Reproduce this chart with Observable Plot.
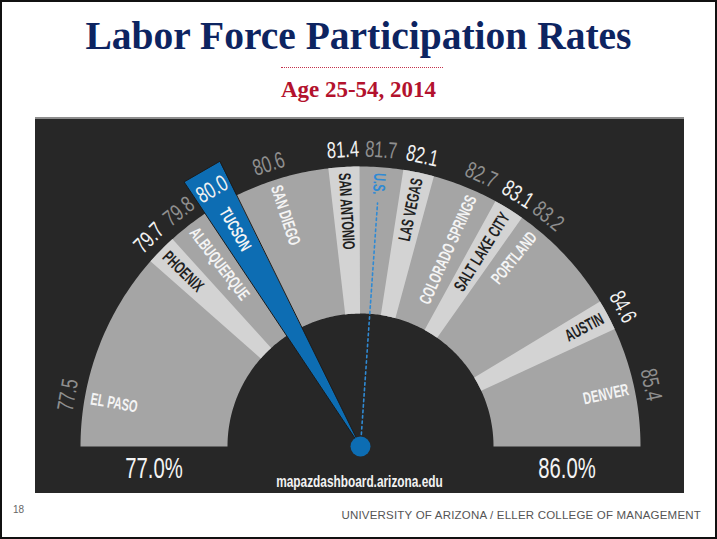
<!DOCTYPE html>
<html><head><meta charset="utf-8">
<script src="https://cdn.jsdelivr.net/npm/d3@7"></script>
<script src="https://cdn.jsdelivr.net/npm/@observablehq/plot@0.6"></script>
<style>
html,body{margin:0;padding:0;background:#fff;}
#slide{position:relative;width:717px;height:539px;box-sizing:border-box;border:2px solid #111;overflow:hidden;background:#fff;}
#title{position:absolute;left:0;right:0;top:14px;line-height:40px;text-align:center;font-family:"Liberation Serif","Times New Roman",serif;font-weight:bold;font-size:39.5px;color:#0d2461;white-space:nowrap;}
#rule{position:absolute;left:279px;width:162px;top:65px;border-top:1.5px dotted #c4324c;}
#subtitle{position:absolute;left:0;right:0;top:76px;line-height:23px;text-align:center;font-family:"Liberation Serif","Times New Roman",serif;font-weight:bold;font-size:23px;color:#b3122d;white-space:nowrap;}
#panel{position:absolute;left:33px;top:115px;width:649px;height:374px;border-top:2px solid #8d8d8d;background:#272727;}
#panel svg{display:block;}
#credit{position:absolute;left:0;width:649px;top:354px;text-align:center;}
#credit span{display:inline-block;transform:scaleX(0.74);font-family:"Liberation Sans",Arial,sans-serif;font-weight:bold;font-size:16px;color:#f2f2f2;}
#pagenum{position:absolute;left:11px;top:502px;font-family:"Liberation Sans",Arial,sans-serif;font-size:10px;color:#666;}
#footer{position:absolute;right:14px;top:507px;font-family:"Liberation Sans",Arial,sans-serif;font-size:11.5px;color:#555;letter-spacing:0.2px;}
</style></head>
<body>
<div id="slide">
  <div id="title">Labor Force Participation Rates</div>
  <div id="rule"></div>
  <div id="subtitle">Age 25-54, 2014</div>
  <div id="panel"><div id="chart"></div><div id="credit"><span>mapazdashboard.arizona.edu</span></div></div>
  <div id="pagenum">18</div>
  <div id="footer">UNIVERSITY OF ARIZONA / ELLER COLLEGE OF MANAGEMENT</div>
</div>
<script>
// ---- data ----
const cities = ["EL PASO","PHOENIX","ALBUQUERQUE","TUCSON","SAN DIEGO","SAN ANTONIO","U.S.","LAS VEGAS","COLORADO SPRINGS","SALT LAKE CITY","PORTLAND","AUSTIN","DENVER"];
const rates  = [77.5, 79.7, 79.8, 80.0, 80.6, 81.4, 81.7, 82.1, 82.7, 83.1, 83.2, 84.6, 85.4];
const kinds  = ["band","strip","band","tucson","band","strip","us","strip","band","strip","band","strip","band"];
const scaleEnds = [77, 86];

// ---- geometry / style ----
const R_IN = 133, R_OUT = 280, R_NEEDLE = 318, R_VALUE = 297, R_LABEL = 274;
const STRIP_W = 0.32, NEEDLE_W = 0.37, MIN_BAND = 0.45, LABEL_PAD = 0.2;
const C_BAND = "#a5a5a5", C_STRIP = "#d3d3d3", C_BLUE = "#0d6db3", C_US = "#2f8ad4";

const angle = d3.scaleLinear().domain(scaleEnds).range([Math.PI, 0]);
const polar = (v, r) => ({x: r * Math.cos(angle(v)), y: r * Math.sin(angle(v))});
const deg = v => angle(v) * 180 / Math.PI;

const n = cities.length;
const isStrip = k => k === "strip" || k === "tucson";
// place strips at their value, pushing left when they crowd a narrow band
const pos = rates.slice();
let limit = Infinity;
for (let i = n - 1; i >= 0; i--) {
  if (!isStrip(kinds[i])) continue;
  pos[i] = Math.min(rates[i], limit - STRIP_W / 2);
  limit = pos[i] - STRIP_W / 2 - MIN_BAND;
}
const halfW = i => kinds[i] === "tucson" ? NEEDLE_W / 2 : STRIP_W / 2;
function prevEdge(i){ for (let j = i - 1; j >= 0; j--) if (isStrip(kinds[j])) return pos[j] + halfW(j); return scaleEnds[0]; }
function nextEdge(i){ for (let j = i + 1; j < n; j++) if (isStrip(kinds[j])) return pos[j] - halfW(j); return scaleEnds[1]; }
for (let i = 0; i < n; i++) {
  if (isStrip(kinds[i])) continue;
  const lo = prevEdge(i) + LABEL_PAD, hi = nextEdge(i) - LABEL_PAD;
  pos[i] = lo <= hi ? Math.min(Math.max(rates[i], lo), hi) : (lo + hi) / 2;
}

// ---- polygons ----
function annular(id, v0, v1, r0, r1, fill) {
  const pts = [], steps = Math.max(4, Math.ceil(Math.abs(v1 - v0) * 30));
  for (let s = 0; s <= steps; s++) { const v = v0 + (v1 - v0) * s / steps; pts.push({id, fill, ...polar(v, r1)}); }
  for (let s = steps; s >= 0; s--) { const v = v0 + (v1 - v0) * s / steps; pts.push({id, fill, ...polar(v, r0)}); }
  return pts;
}
const shapes = annular("base", scaleEnds[0], scaleEnds[1], R_IN, R_OUT, C_BAND);
cities.forEach((c, i) => {
  if (kinds[i] === "strip") shapes.push(...annular(c, pos[i] - STRIP_W / 2, pos[i] + STRIP_W / 2, R_IN, R_OUT, C_STRIP));
});
const ti = kinds.indexOf("tucson");
const needle = [
  {id: "needle", ...polar(pos[ti], 0)},
  {id: "needle", ...polar(pos[ti] - NEEDLE_W / 2, R_NEEDLE)},
  {id: "needle", ...polar(pos[ti] + NEEDLE_W / 2, R_NEEDLE)}
];
const ui = kinds.indexOf("us");
const usLine = [polar(pos[ui], 12), polar(pos[ui], 244)];

// ---- labels ----
const labels = cities.map((c, i) => {
  const a = deg(pos[i]);
  const inward = a > 80;
  return {
    text: c, inward, ...polar(pos[i], R_LABEL),
    rotate: inward ? 180 - a : -a,
    fill: kinds[i] === "strip" ? "#1f1f1f" : kinds[i] === "us" ? C_US : "#f4f4f4"
  };
});
const values = cities.map((c, i) => {
  const a = deg(pos[i]);
  return {text: rates[i].toFixed(1), ...polar(pos[i], R_VALUE), rotate: 90 - a,
          fill: isStrip(kinds[i]) ? "#f2f2f2" : "#8f8f8f"};
});
const ends = scaleEnds.map(v => ({text: v.toFixed(1) + "%", ...polar(v, (R_IN + R_OUT) / 2), rotate: 0}));

const FONT = '"Liberation Sans",Arial,sans-serif';
const LBL = {x: "x", y: "y", text: "text", rotate: "rotate", fill: "fill", fontFamily: FONT, fontWeight: "bold", fontSize: 17};

const plot = Plot.plot({
  width: 649, height: 374, margin: 0,
  x: {domain: [-325, 324], axis: null},
  y: {domain: [-47, 327], axis: null},
  color: {type: "identity"},
  style: {background: "transparent", overflow: "visible"},
  marks: [
    Plot.line(shapes, {x: "x", y: "y", z: "id", fill: "fill", stroke: null, curve: "linear-closed"}),
    Plot.line(usLine, {x: "x", y: "y", stroke: C_US, strokeWidth: 1.6, strokeDasharray: "2.5,3"}),
    Plot.text(labels.filter(d => d.inward && d.text !== cities[ti]), {...LBL, textAnchor: "start"}),
    Plot.text(labels.filter(d => !d.inward), {...LBL, textAnchor: "end"}),
    Plot.line(needle, {x: "x", y: "y", z: "id", fill: C_BLUE, stroke: "#1c1c1c", strokeWidth: 1, curve: "linear-closed"}),
    Plot.text(labels.filter(d => d.text === cities[ti]), {...LBL, textAnchor: "start"}),
    Plot.dot([needle[0]], {x: "x", y: "y", r: 10, fill: C_BLUE}),
    Plot.text(values, {x: "x", y: "y", text: "text", rotate: "rotate", fill: "fill", fontFamily: FONT, fontSize: 23}),
    Plot.text(ends, {x: "x", y: "y", text: "text", rotate: "rotate", dy: 22, fill: "#f4f4f4", fontFamily: FONT, fontSize: 29})
  ]
});
// condensed lettering: squeeze each text mark along its reading direction
const squeeze = [0.65, 0.65, 0.65, 0.72, 0.7];
plot.querySelectorAll('g[aria-label="text"]').forEach((g, k) => {
  const s = squeeze[k] ?? 1;
  g.querySelectorAll("text").forEach(t => {
    const tr = t.getAttribute("transform");
    if (tr) t.setAttribute("transform", tr + ` scale(${s},1)`);
    else {
      const x = t.getAttribute("x") || 0, y = t.getAttribute("y") || 0;
      t.removeAttribute("x"); t.removeAttribute("y");
      t.setAttribute("transform", `translate(${x},${y}) scale(${s},1)`);
    }
  });
});
document.getElementById("chart").appendChild(plot);
</script>
</body></html>
